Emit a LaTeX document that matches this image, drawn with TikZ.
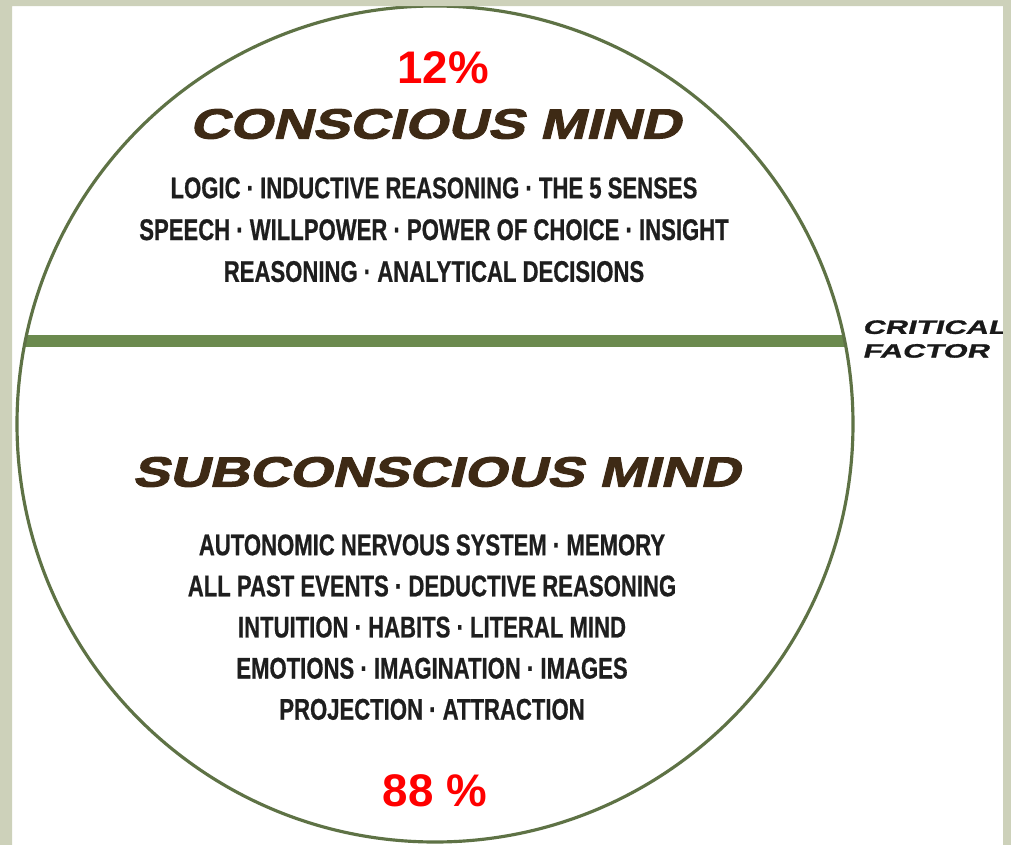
\documentclass[tikz,border=0pt]{standalone}
\usepackage{fontspec}
\setmainfont{Liberation Sans}
\newfontfamily\headfont{Liberation Sans Bold}[FakeStretch=1.31,FakeSlant=0.25,FakeBold=2.4]
\newfontfamily\itemfont{Liberation Sans Bold}[FakeStretch=0.74,FakeBold=0.6]
\newfontfamily\sidefont{Liberation Sans Bold}[FakeStretch=1.6,FakeSlant=0.25,FakeBold=1.4]
\usetikzlibrary{positioning}
\definecolor{framegrey}{HTML}{CDD1BA}
\definecolor{rimgreen}{HTML}{5E7245}
\definecolor{bandgreen}{HTML}{6B8A4E}
\definecolor{headbrown}{HTML}{3E2A15}
\definecolor{itemblack}{HTML}{1E1E1E}
\tikzset{
    headline/.style={text=headbrown, inner sep=0pt, font=\headfont\fontsize{24}{28}\selectfont},
    itemlist/.style={text=itemblack, inner sep=0pt, align=center, anchor=north},
    share/.style={text=red, inner sep=0pt, font=\bfseries\fontsize{26}{30}\selectfont},
    sidenote/.style={text=black!90, inner sep=0pt, align=left, anchor=north west,
        font=\sidefont\fontsize{11}{13.5}\selectfont}
}

\begin{document}
\begin{tikzpicture}[x=0.02cm, y=-0.02cm]
    \useasboundingbox (0,0) rectangle (1011,845);
    \fill[white] (0,0) rectangle (1011,845);
    % the mind, split by the critical factor
    \begin{scope}
        \clip (435,424) circle[radius=418];
        \fill[bandgreen] (0,335) rectangle (1011,347);
    \end{scope}
    \draw[rimgreen, line width=1.8pt] (435,424) circle[radius=418];
    \node[share] (top) at (443,68) {12\%};
    \node[headline] (cons) at (435,124) {CONSCIOUS MIND};
    \node[itemlist, font=\itemfont\fontsize{17}{23.8}\selectfont] (conslist) at (434,177)
        {LOGIC · INDUCTIVE REASONING · THE 5 SENSES\\
         SPEECH · WILLPOWER · POWER OF CHOICE · INSIGHT\\
         REASONING · ANALYTICAL DECISIONS};
    \node[sidenote] (crit) at (862,320) {CRITICAL\\FACTOR};
    \node[headline] (subcons) at (436,472) {SUBCONSCIOUS MIND};
    \node[itemlist, font=\itemfont\fontsize{17}{23.4}\selectfont] (subslist) at (432,534)
        {AUTONOMIC NERVOUS SYSTEM · MEMORY\\
         ALL PAST EVENTS · DEDUCTIVE REASONING\\
         INTUITION · HABITS · LITERAL MIND\\
         EMOTIONS · IMAGINATION · IMAGES\\
         PROJECTION · ATTRACTION};
    \node[share] (bottom) at (435,791) {88 \%};
    % slide frame
    \fill[framegrey, even odd rule] (0,0) rectangle (1011,845) (12,6) rectangle (1003,845);
\end{tikzpicture}
\end{document}
